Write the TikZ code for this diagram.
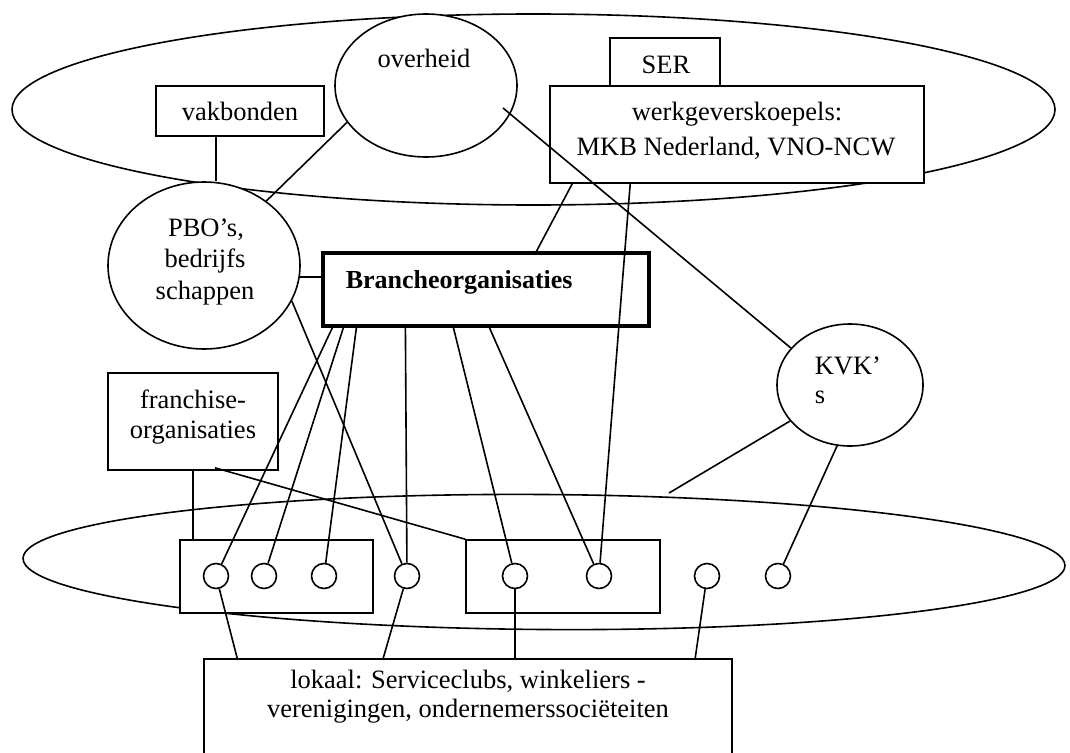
\documentclass[tikz,border=0pt]{standalone}
\usepackage{fontspec}
\setmainfont{Liberation Serif}
\usetikzlibrary{shapes.geometric,calc}

\tikzset{
  every path/.style={line width=1.6pt},
  ring/.style={draw, ellipse, inner sep=0pt, fill=white},
  box/.style={draw, rectangle, inner sep=0pt, fill=white},
  hub/.style={draw, circle, inner sep=0pt, minimum size=25pt, fill=white},
  txt/.style={inner sep=0pt, anchor=base, font=\fontsize{26.5}{31}\selectfont},
  txtl/.style={txt, anchor=base west},
}

\begin{document}
\begin{tikzpicture}[x=1pt,y=-1pt]
\useasboundingbox (0,0) rectangle (1070,752);

% national level and local level
\node[draw, ellipse, inner sep=0pt, minimum width=1043pt, minimum height=191pt] (top) at (533.5,109.5) {};
\node[draw, ellipse, inner sep=0pt, minimum width=1042pt, minimum height=135pt, rotate=-0.4] (bot) at (544,562) {};

% organisations
\node[ring, minimum width=182pt, minimum height=143pt] (ov) at (426,85.5) {};
\node[box, minimum width=168pt, minimum height=50pt] (vb) at (240,111) {};
\node[box, minimum width=110pt, minimum height=49pt] (ser) at (665,62.5) {};
\node[box, minimum width=374pt, minimum height=97pt] (wg) at (737,134.5) {};
\node[ring, minimum width=192pt, minimum height=167pt] (pbo) at (204,265.5) {};
\node[box, line width=3.2pt, minimum width=326pt, minimum height=73pt] (br) at (486,289.5) {};
\node[ring, minimum width=146pt, minimum height=122pt] (kvk) at (850,385) {};
\node[box, minimum width=170pt, minimum height=97pt] (fr) at (193,421.5) {};
\node[box, minimum width=193pt, minimum height=73pt] (b1) at (276.5,576.5) {};
\node[box, minimum width=194pt, minimum height=73pt] (b2) at (563,576.5) {};
\node[box, minimum width=528pt, minimum height=100pt] (lk) at (468,709) {};

% members
\foreach \n/\x in {c1/216,c2/264,c3/324,c4/407,c5/515,c6/599,c7/707,c8/778}
  \node[hub] (\n) at (\x,576) {};

% labels
\node[txt] (ovt) at (424,67) {overheid};
\node[txt] (vbt) at (240,120) {vakbonden};
\node[txt] (sert) at (666,74) {SER};
\node[txt] (wgt1) at (737,120) {werkgeverskoepels:};
\node[txt] (wgt2) at (736,155) {MKB Nederland, VNO-NCW};
\node[txt] (pbot1) at (206,236) {PBO’s,};
\node[txt] (pbot2) at (205,267) {bedrijfs};
\node[txt] (pbot3) at (205,299) {schappen};
\node[txtl, font=\fontsize{26}{31}\selectfont\bfseries] (brt) at (345,288) {Brancheorganisaties};
\node[txtl] (kvkt1) at (814,374) {KVK’};
\node[txtl] (kvkt2) at (814,403) {s};
\node[txt] (frt1) at (193,408) {franchise-};
\node[txt] (frt2) at (193,438) {organisaties};
\node[txt] (lkt1) at (468,688) {lokaal: Serviceclubs, winkeliers -};
\node[txt] (lkt2) at (468,717) {verenigingen, ondernemerssociëteiten};

% connectors
\coordinate (vbfoot) at ($(vb.south)+(-24,0)$);
\draw (vbfoot) -- (vbfoot |- pbo.north);
\draw (ov.205) -- (pbo.46);
\draw ($(ov.center)+(77,22.5)$) -- (kvk.148);
\draw (pbo.-7) -- (pbo.-7 -| br.west);
\draw ($(wg.south west)+(23,0)$) -- ($(br.north west)+(215,0)$);
\draw ($(wg.south west)+(81,0)$) -- (c6);
\foreach \dx/\c in {11/c1,22/c2,35/c3,84/c4,132/c5,168/c6}
  \draw ($(br.south west)+(\dx,0)$) -- (\c);
\draw (pbo.-22) -- (c4);
\draw (fr.south) -- (fr.south |- b1.north);
\draw ($(fr.south)+(22,-3)$) -- (b2.north west);
\coordinate (kvkfoot) at (669,493);
\draw (kvk.211) -- (kvkfoot);
\draw (kvk.258) -- (c8);
\draw (c1) -- ($(lk.north west)+(34,0)$);
\draw (c4) -- ($(lk.north west)+(180,0)$);
\draw (c5) -- (c5 |- lk.north);
\draw (c7) -- ($(lk.north west)+(492,0)$);
\end{tikzpicture}
\end{document}
